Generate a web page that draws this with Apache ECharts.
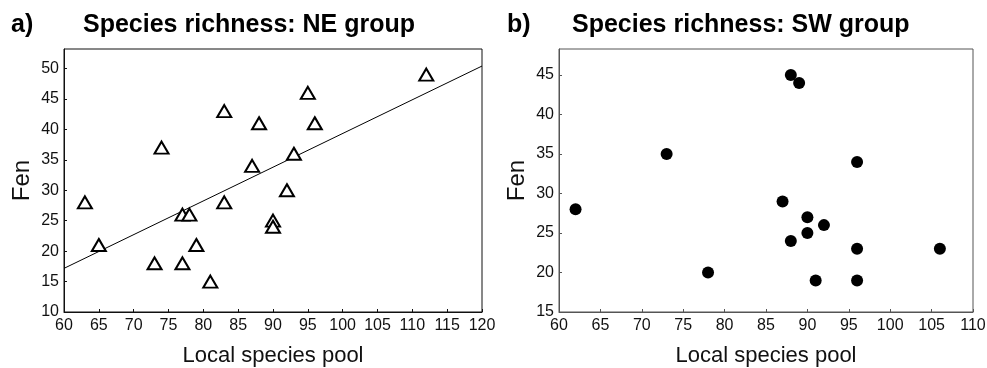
<!DOCTYPE html>
<html>
<head>
<meta charset="utf-8">
<script src="https://cdn.jsdelivr.net/npm/echarts@6/dist/echarts.min.js"></script>
<style>
  html, body { margin: 0; padding: 0; background: #fff; }
  #chart { width: 987px; height: 368px; }
</style>
</head>
<body>
<div id="chart"></div>
<script>
// Panel a) NE group: local species pool vs. fen richness
const neX = [63, 65, 73, 74, 77, 77, 78, 79, 81, 83, 83, 87, 88, 90, 90, 92, 93, 95, 96, 112];
const neY = [28, 21, 18, 37, 18, 26, 26, 21, 15, 43, 28, 34, 41, 25, 24, 30, 36, 46, 41, 49];

// Panel b) SW group
const swX = [62, 73, 78, 88, 89, 96, 87, 90, 92, 90, 88, 96, 106, 91, 96];
const swY = [28, 35, 20, 45, 44, 34, 29, 27, 26, 25, 24, 23, 23, 19, 19];

// Axis ranges
const neXRange = [60, 120];
const neYRange = [10, 53.2];
const swXRange = [60, 110];
const swYRange = [15, 48.3];

// Least-squares fit for the NE group
function fitLine(xs, ys) {
  const n = xs.length;
  const mx = xs.reduce((a, b) => a + b, 0) / n;
  const my = ys.reduce((a, b) => a + b, 0) / n;
  let sxy = 0, sxx = 0;
  for (let i = 0; i < n; i++) {
    sxy += (xs[i] - mx) * (ys[i] - my);
    sxx += (xs[i] - mx) * (xs[i] - mx);
  }
  const slope = sxy / sxx;
  return { slope, intercept: my - slope * mx };
}
const fit = fitLine(neX, neY);
const fitData = neXRange.map(x => [x, fit.intercept + fit.slope * x]);

const FONT = '"Liberation Sans Narrow", "Liberation Sans", Arial, sans-serif';
const BOLD = '"Liberation Sans", Arial, sans-serif';

function xAxisCfg(idx, range, color) {
  return {
    type: 'value', gridIndex: idx, min: range[0], max: range[1], interval: 5,
    name: 'Local species pool', nameLocation: 'middle', nameGap: 33,
    nameTextStyle: { fontFamily: BOLD, fontSize: 22, color: '#111' },
    axisLine: { show: true, lineStyle: { color: color, width: 1 } },
    axisTick: { show: true, inside: true, length: 3, lineStyle: { color: color } },
    axisLabel: { fontFamily: FONT, fontSize: 16, color: '#111', margin: 6 },
    splitLine: { show: false }
  };
}
function yAxisCfg(idx, range, color) {
  return {
    type: 'value', gridIndex: idx, min: range[0], max: range[1], interval: 5,
    name: 'Fen', nameLocation: 'middle', nameGap: 30, nameRotate: 90,
    nameTextStyle: { fontFamily: BOLD, fontSize: 24, color: '#111' },
    axisLine: { show: true, lineStyle: { color: color, width: 1 } },
    axisTick: { show: true, inside: true, length: 3, lineStyle: { color: color } },
    axisLabel: { fontFamily: FONT, fontSize: 16, color: '#111', margin: 5, showMaxLabel: false },
    splitLine: { show: false }
  };
}

const titleStyle = { fontFamily: BOLD, fontWeight: 'bold', fontSize: 25, color: '#000' };

const chart = echarts.init(document.getElementById('chart'), null, { renderer: 'canvas' });
chart.setOption({
  animation: false,
  backgroundColor: '#fff',
  title: [
    { text: 'a)', left: 11, top: 13, padding: 0, textStyle: titleStyle },
    { text: 'Species richness: NE group', left: 83, top: 13, padding: 0, textStyle: titleStyle },
    { text: 'b)', left: 507, top: 13, padding: 0, textStyle: titleStyle },
    { text: 'Species richness: SW group', left: 572, top: 13, padding: 0, textStyle: titleStyle }
  ],
  grid: [
    { left: 64, right: 505, top: 49, bottom: 56, show: true, borderColor: '#111', borderWidth: 1, outerBoundsMode: 'none' },
    { left: 559, right: 14, top: 49, bottom: 56, show: true, borderColor: '#555', borderWidth: 1, outerBoundsMode: 'none' }
  ],
  xAxis: [xAxisCfg(0, neXRange, '#111'), xAxisCfg(1, swXRange, '#555')],
  yAxis: [yAxisCfg(0, neYRange, '#111'), yAxisCfg(1, swYRange, '#555')],
  series: [
    {
      type: 'line', xAxisIndex: 0, yAxisIndex: 0, data: fitData,
      showSymbol: false, symbol: 'none', silent: true,
      lineStyle: { color: '#000', width: 1 }, z: 1
    },
    {
      type: 'scatter', xAxisIndex: 0, yAxisIndex: 0,
      data: neX.map((x, i) => [x, neY[i]]),
      symbol: 'triangle', symbolSize: [14, 12],
      itemStyle: { color: '#fff', borderColor: '#000', borderWidth: 2, opacity: 1 }, z: 3
    },
    {
      type: 'scatter', xAxisIndex: 1, yAxisIndex: 1,
      data: swX.map((x, i) => [x, swY[i]]),
      symbol: 'circle', symbolSize: 12,
      itemStyle: { color: '#000', opacity: 1 }, z: 3
    }
  ]
});
</script>
</body>
</html>
